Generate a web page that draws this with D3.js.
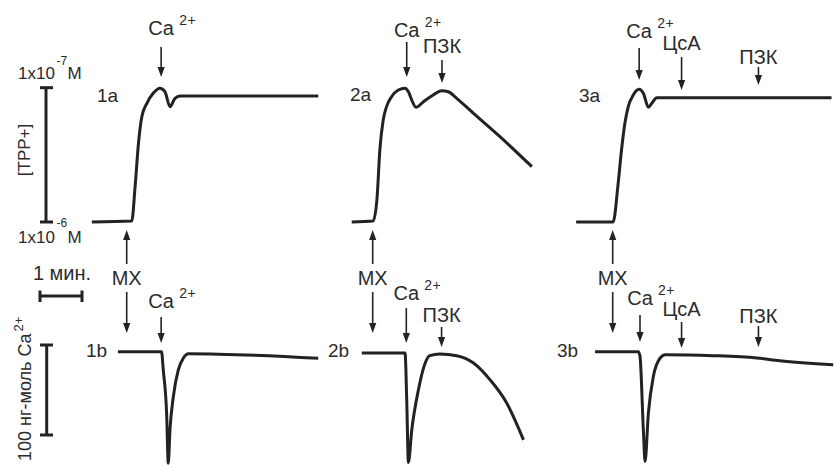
<!DOCTYPE html>
<html><head><meta charset="utf-8">
<script src="https://cdn.jsdelivr.net/npm/d3@7"></script>
<style>
body{margin:0;background:#fff}
svg{display:block}
text{font-family:"Liberation Sans",Arial,sans-serif;fill:#2b2b2b}
</style>
</head><body>
<svg id="c" width="834" height="465"></svg>
<script>
// ---------------- DATA ----------------
// time in minutes (0 = addition of mitochondria, МХ), value = -log[TPP+] (6 = 1x10^-6 M, 7 = 1x10^-7 M)
const tpp1 = [[-0.83,6.000],[0.12,6.007],[0.20,6.263],[0.28,6.586],[0.36,6.784],[0.48,6.884],[0.63,6.958],[0.79,6.996],[0.91,6.970],[1.03,6.859],[1.15,6.921],[1.27,6.938],[4.56,6.938]];
const tpp2 = [[-0.50,6.000],[0.01,6.007],[0.10,6.164],[0.17,6.536],[0.25,6.759],[0.33,6.859],[0.45,6.933],[0.61,6.983],[0.77,6.996],[0.85,6.970],[0.93,6.908],[1.03,6.854],[1.21,6.896],[1.44,6.946],[1.64,6.978],[1.80,6.970],[2.00,6.921],[2.40,6.809],[3.03,6.635],[3.79,6.412]];
const tpp3 = [[-0.87,6.000],[0.01,6.000],[0.13,6.288],[0.21,6.536],[0.29,6.735],[0.37,6.859],[0.49,6.946],[0.63,6.988],[0.73,6.958],[0.85,6.854],[0.93,6.884],[1.05,6.926],[5.21,6.926]];
// Ca2+ in medium, change in ng-mol
const ca1 = [[-0.21,0],[0.83,0],[0.87,-20],[0.95,-68],[0.99,-124],[1.03,-87],[1.11,-50],[1.23,-20],[1.35,-7],[1.47,-2.2],[4.56,-7.4]];
const ca2 = [[-0.26,-1.4],[0.77,-1.4],[0.81,-53],[0.85,-123],[0.93,-87],[1.09,-42],[1.25,-12.6],[1.36,-4.4],[1.60,-2.6],[2.00,-4.4],[2.40,-12.6],[2.79,-31],[3.19,-57],[3.59,-98]];
const ca3 = [[-0.42,0],[0.61,0],[0.65,-5.2],[0.73,-87],[0.77,-122],[0.85,-68],[0.97,-27],[1.13,-7],[1.25,-3.3],[2.39,-4.4],[3.43,-7],[3.98,-10],[5.25,-14.4]];
// additions: [key, time in min]
const eventsTop1 = [["ca",0.82]];
const eventsTop2 = [["ca",0.81],["pzk",1.65]];
const eventsTop3 = [["ca",0.63],["csa",1.64],["pzk",3.47]];
const eventsBot1 = [["ca",0.82]];
const eventsBot2 = [["ca",0.80],["pzk",1.64]];
const eventsBot3 = [["ca",0.65],["csa",1.64],["pzk",3.47]];
const names = {ca:"Ca", pzk:"ПЗК", csa:"ЦсА", mx:"МХ"};
const panelLabelsTop = ["1a","2a","3a"];
const panelLabelsBot = ["1b","2b","3b"];
const tppTickLabels = ["1x10","-7","M","1x10","-6","M"];
const scaleLabels = ["[TPP+]","1 мин.","100 нг-моль Ca","2+"];

// ---------------- LAYOUT ----------------
const svg = d3.select("#c");
const x = d3.scaleLinear().domain([0,1]).range([0,42]);
const yA = d3.scaleLinear().domain([6,7]).range([222,87.7]);
const yB = d3.scaleLinear().domain([0,-100]).range([351.7,441.7]);
const origins = [126.7,372.7,612.7];
const ink = "#222";

const lineA = d3.line().x(d=>x(d[0])).y(d=>yA(d[1])).curve(d3.curveMonotoneX);
const lineB = d3.line().x(d=>x(d[0])).y(d=>yB(d[1])).curve(d3.curveMonotoneX);

function arrow(g, xx, y1, y2, dir){ // dir: 1 down, -1 up
  const hl = 10, hw = 3.6;
  if(dir>0){
    g.append("line").attr("x1",xx).attr("x2",xx).attr("y1",y1).attr("y2",y2-hl+1)
      .attr("stroke",ink).attr("stroke-width",1.6);
    g.append("path").attr("d",`M${xx-hw},${y2-hl}L${xx+hw},${y2-hl}L${xx},${y2}Z`).attr("fill",ink);
  } else {
    g.append("line").attr("x1",xx).attr("x2",xx).attr("y1",y1).attr("y2",y2+hl-1)
      .attr("stroke",ink).attr("stroke-width",1.6);
    g.append("path").attr("d",`M${xx-hw},${y2+hl}L${xx+hw},${y2+hl}L${xx},${y2}Z`).attr("fill",ink);
  }
}

function label(g, key, xx, base){
  if(key==="ca"){
    g.append("text").attr("x",xx).attr("y",base).attr("text-anchor","middle")
      .attr("font-size",20).text(names.ca);
    g.append("text").attr("x",xx+18).attr("y",base-10).attr("font-size",14)
      .attr("letter-spacing",0.5).text("2+");
  } else {
    g.append("text").attr("x",xx).attr("y",base).attr("text-anchor","middle")
      .attr("font-size",20).text(names[key]);
  }
}

// per-event vertical geometry: [label baseline, arrow top, arrow tip]
const geomTop = [
  {ca:[35,47,77]},
  {ca:[36.5,42,77], pzk:[53,60,83]},
  {ca:[38,48,80], csa:[50,57,90], pzk:[64,67,85]}
];
const geomBot = [
  {ca:[308,317,343]},
  {ca:[300,308,343], pzk:[321.5,327,347]},
  {ca:[305,315,342], csa:[316,322,348], pzk:[323,326,347]}
];
const tppData = [tpp1,tpp2,tpp3];
const caData = [ca1,ca2,ca3];
const evTop = [eventsTop1,eventsTop2,eventsTop3];
const evBot = [eventsBot1,eventsBot2,eventsBot3];
const labTopPos = [[97,102],[350,100.5],[579,101.5]];
const labBotPos = [[86,356.5],[328,357],[557,357]];

origins.forEach((ox,i)=>{
  const g = svg.append("g").attr("transform",`translate(${ox},0)`);
  g.append("path").datum(tppData[i]).attr("d",lineA).attr("fill","none")
    .attr("stroke",ink).attr("stroke-width",3).attr("stroke-linejoin","round");
  g.append("path").datum(caData[i]).attr("d",lineB).attr("fill","none")
    .attr("stroke",ink).attr("stroke-width",3).attr("stroke-linejoin","round");
  evTop[i].forEach(([k,t])=>{
    const gm = geomTop[i][k];
    label(g,k,x(t),gm[0]);
    arrow(g,x(t),gm[1],gm[2],1);
  });
  evBot[i].forEach(([k,t])=>{
    const gm = geomBot[i][k];
    label(g,k,x(t),gm[0]);
    arrow(g,x(t),gm[1],gm[2],1);
  });
  // МХ
  g.append("text").attr("x",x(0)).attr("y",285).attr("text-anchor","middle").attr("font-size",20).text(names.mx);
  arrow(g,x(0),264,230,-1);
  arrow(g,x(0),292,333,1);
  svg.append("text").attr("x",labTopPos[i][0]).attr("y",labTopPos[i][1]).attr("font-size",19).text(panelLabelsTop[i]);
  svg.append("text").attr("x",labBotPos[i][0]).attr("y",labBotPos[i][1]).attr("font-size",19).text(panelLabelsBot[i]);
});

// TPP scale bar
const sb = svg.append("g").attr("stroke",ink).attr("stroke-width",3);
sb.append("line").attr("x1",46).attr("x2",46).attr("y1",yA(7)).attr("y2",yA(6));
sb.append("line").attr("x1",40).attr("x2",53).attr("y1",yA(7)).attr("y2",yA(7));
sb.append("line").attr("x1",40).attr("x2",53).attr("y1",yA(6)).attr("y2",yA(6));
svg.append("text").attr("x",18).attr("y",79).attr("font-size",17).text(tppTickLabels[0]);
svg.append("text").attr("x",56.5).attr("y",65).attr("font-size",12).text(tppTickLabels[1]);
svg.append("text").attr("x",67.5).attr("y",79).attr("font-size",17).text(tppTickLabels[2]);
svg.append("text").attr("x",18).attr("y",243).attr("font-size",17).text(tppTickLabels[3]);
svg.append("text").attr("x",56.5).attr("y",227).attr("font-size",12).text(tppTickLabels[4]);
svg.append("text").attr("x",67.5).attr("y",243).attr("font-size",17).text(tppTickLabels[5]);
svg.append("text").attr("transform","translate(30,150) rotate(-90)").attr("text-anchor","middle")
  .attr("font-size",17).text(scaleLabels[0]);

// time bar
const tb = svg.append("g").attr("stroke",ink).attr("stroke-width",3);
tb.append("line").attr("x1",40).attr("x2",40+x(1)).attr("y1",296).attr("y2",296);
tb.append("line").attr("x1",40).attr("x2",40).attr("y1",290.5).attr("y2",302);
tb.append("line").attr("x1",40+x(1)).attr("x2",40+x(1)).attr("y1",290.5).attr("y2",302);
svg.append("text").attr("x",62).attr("y",280).attr("text-anchor","middle").attr("font-size",20).text(scaleLabels[1]);

// Ca scale bar
const cy0 = 345, cy1 = cy0 + (yB(-100)-yB(0));
const cb = svg.append("g").attr("stroke",ink).attr("stroke-width",3);
cb.append("line").attr("x1",46.7).attr("x2",46.7).attr("y1",cy0).attr("y2",cy1);
cb.append("line").attr("x1",40).attr("x2",53).attr("y1",cy0).attr("y2",cy0);
cb.append("line").attr("x1",40).attr("x2",53).attr("y1",cy1).attr("y2",cy1);
const ct = svg.append("text").attr("transform","translate(31,461) rotate(-90)").attr("font-size",18);
ct.append("tspan").text(scaleLabels[2]);
ct.append("tspan").attr("dx",2).attr("dy",-8).attr("font-size",13).text(scaleLabels[3]);
</script>
</body></html>
